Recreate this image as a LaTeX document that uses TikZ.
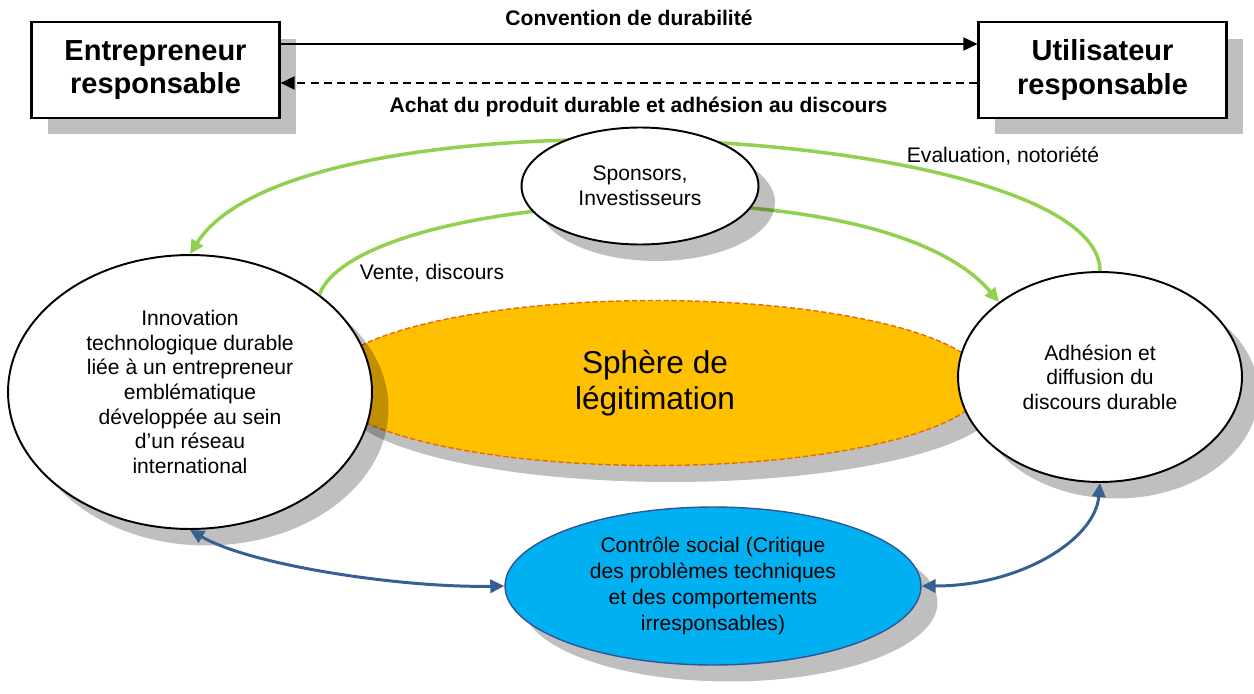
\documentclass[tikz,border=0pt]{standalone}
\usepackage{fontspec}
\setmainfont{Liberation Sans}
\usetikzlibrary{shapes.geometric,shadows,arrows.meta}
\definecolor{legit}{RGB}{255,192,0}
\definecolor{legitline}{RGB}{228,108,10}
\definecolor{socialblue}{RGB}{0,176,240}
\definecolor{socialline}{RGB}{47,85,151}
\definecolor{flowgreen}{RGB}{146,208,80}
\definecolor{flowblue}{RGB}{54,96,146}
\begin{document}
\begin{tikzpicture}[x=0.02cm,y=-0.02cm,
    >={Triangle[length=8pt,width=7.5pt]},
    shade/.style={drop shadow={shadow xshift=0.33cm,shadow yshift=-0.33cm,fill=black,opacity=0.25}},
    actor/.style={rectangle,draw,line width=1.3pt,fill=white,shade,minimum width=4.96cm,minimum height=1.92cm,
                  inner sep=0pt,align=center,font=\bfseries\fontsize{16.5}{18.8}\selectfont},
    bubble/.style={ellipse,draw,line width=1.1pt,fill=white,shade,inner sep=0pt,align=center,
                   font=\fontsize{12}{14}\selectfont},
    lbl/.style={font=\fontsize{12}{14}\selectfont},
    flow/.style={flowgreen,line width=2pt,->},
    check/.style={flowblue,line width=1.7pt,<->}]
    \useasboundingbox (0,0) rectangle (1254,693);

    % sphere in the middle
    \node[ellipse,draw=legitline,fill=legit,shade,dash pattern=on 3pt off 1.5pt,line width=0.8pt,
          minimum width=13.2cm,minimum height=3.3cm,inner sep=0pt,align=center,
          font=\fontsize{18}{20.5}\selectfont] (legit) at (655,383) {Sphère de\\légitimation};

    \node[bubble,minimum width=7.28cm,minimum height=5.48cm] (inno) at (190,392)
        {Innovation\\technologique durable\\liée à un entrepreneur\\emblématique\\développée au sein\\d’un réseau\\international};
    \node[bubble,minimum width=5.68cm,minimum height=4.2cm] (adh) at (1100,377)
        {Adhésion et\\diffusion du\\discours durable};
    \node[bubble,fill=socialblue,draw=socialline,line width=0.8pt,minimum width=8.32cm,minimum height=3.16cm,
          font=\fontsize{12}{14.8}\selectfont] (ctrl) at (713,586)
        {Contrôle social (Critique\\des problèmes techniques\\et des comportements\\irresponsables)};

    % top row
    \node[actor] (entr) at (155.5,70) {Entrepreneur\\responsable};
    \node[actor] (util) at (1102.5,70) {Utilisateur\\responsable};
    \draw[line width=0.9pt,->] ([yshift=0.52cm]entr.east) -- ([yshift=0.52cm]util.west)
        node[midway,above=6.5pt,font=\bfseries\fontsize{12}{14}\selectfont] {Convention de durabilité};
    \draw[line width=0.9pt,dash pattern=on 4.5pt off 3pt,->] ([yshift=-0.26cm]util.west) -- ([yshift=-0.26cm]entr.east)
        node[midway,below=4pt,xshift=0.19cm,font=\bfseries\fontsize{12}{14}\selectfont] {Achat du produit durable et adhésion au discours};

    % green loops
    \draw[flow] (adh.north) .. controls (1100,125) and (300,80) .. (inno.north);
    \draw[flow] (inno.north east) .. controls (360,190) and (880,160) .. (adh.north west);
    \node[bubble,minimum width=4.74cm,minimum height=2.34cm] (spons) at (640,186) {Sponsors,\\Investisseurs};
    \node[lbl] (evallbl) at (1003,156) {Evaluation, notoriété};
    \node[lbl] (ventelbl) at (432,273) {Vente, discours};

    % blue links
    \draw[check] (inno.south) .. controls (250,565) and (400,588) .. (ctrl.west);
    \draw[check] (ctrl.east) .. controls (1020,586) and (1095,540) .. (adh.south);
\end{tikzpicture}
\end{document}
